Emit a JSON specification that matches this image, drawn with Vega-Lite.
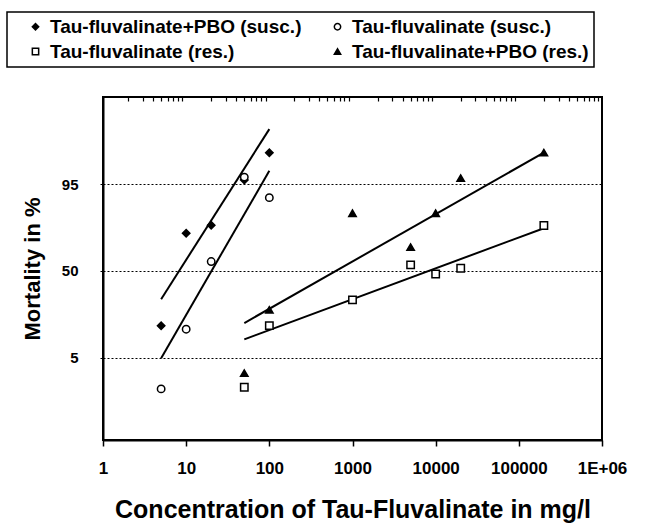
{
  "$schema": "https://vega.github.io/schema/vega-lite/v6.json",
  "width": 499,
  "height": 343,
  "autosize": {"type": "none"},
  "padding": {"left": 103, "top": 97, "right": 43, "bottom": 89},
  "background": "white",
  "config": {
    "font": "Liberation Sans",
    "view": {"stroke": "black", "strokeWidth": 2},
    "axis": {
      "labelFont": "Liberation Sans", "labelFontWeight": "bold", "labelFontSize": 15, "labelColor": "black",
      "titleFont": "Liberation Sans", "titleFontWeight": "bold", "titleFontSize": 22, "titleColor": "black",
      "domainColor": "black", "tickColor": "black"
    },
    "legend": {"labelFont": "Liberation Sans", "labelFontWeight": "bold", "labelFontSize": 19, "labelColor": "black", "strokeWidth": 1.5}
  },
  "datasets": {
    "points": [
      {"group": "Tau-fluvalinate+PBO (susc.)", "conc": 5, "probit": -1.04},
      {"group": "Tau-fluvalinate+PBO (susc.)", "conc": 10, "probit": 0.715},
      {"group": "Tau-fluvalinate+PBO (susc.)", "conc": 20, "probit": 0.867},
      {"group": "Tau-fluvalinate+PBO (susc.)", "conc": 50, "probit": 1.727},
      {"group": "Tau-fluvalinate+PBO (susc.)", "conc": 100, "probit": 2.24},
      {"group": "Tau-fluvalinate (susc.)", "conc": 5, "probit": -2.24},
      {"group": "Tau-fluvalinate (susc.)", "conc": 10, "probit": -1.107},
      {"group": "Tau-fluvalinate (susc.)", "conc": 20, "probit": 0.177},
      {"group": "Tau-fluvalinate (susc.)", "conc": 50, "probit": 1.78},
      {"group": "Tau-fluvalinate (susc.)", "conc": 100, "probit": 1.39},
      {"group": "Tau-fluvalinate+PBO (res.)", "conc": 50, "probit": -1.94},
      {"group": "Tau-fluvalinate+PBO (res.)", "conc": 100, "probit": -0.74},
      {"group": "Tau-fluvalinate+PBO (res.)", "conc": 1000, "probit": 1.095},
      {"group": "Tau-fluvalinate+PBO (res.)", "conc": 5000, "probit": 0.45},
      {"group": "Tau-fluvalinate+PBO (res.)", "conc": 10000, "probit": 1.095},
      {"group": "Tau-fluvalinate+PBO (res.)", "conc": 20000, "probit": 1.76},
      {"group": "Tau-fluvalinate+PBO (res.)", "conc": 200000, "probit": 2.245},
      {"group": "Tau-fluvalinate (res.)", "conc": 50, "probit": -2.21},
      {"group": "Tau-fluvalinate (res.)", "conc": 100, "probit": -1.04},
      {"group": "Tau-fluvalinate (res.)", "conc": 1000, "probit": -0.55},
      {"group": "Tau-fluvalinate (res.)", "conc": 5000, "probit": 0.114},
      {"group": "Tau-fluvalinate (res.)", "conc": 10000, "probit": -0.06},
      {"group": "Tau-fluvalinate (res.)", "conc": 20000, "probit": 0.05},
      {"group": "Tau-fluvalinate (res.)", "conc": 200000, "probit": 0.86}
    ],
    "fits": [
      {"series": "pbo_susc", "conc": 5, "probit": -0.537},
      {"series": "pbo_susc", "conc": 100, "probit": 2.69},
      {"series": "susc", "conc": 5, "probit": -1.657},
      {"series": "susc", "conc": 100, "probit": 1.898},
      {"series": "pbo_res", "conc": 50, "probit": -0.99},
      {"series": "pbo_res", "conc": 200000, "probit": 2.245},
      {"series": "res", "conc": 50, "probit": -1.3},
      {"series": "res", "conc": 200000, "probit": 0.81}
    ]
  },
  "layer": [
    {
      "data": {"name": "fits"},
      "mark": {"type": "line", "color": "black", "strokeWidth": 2},
      "encoding": {
        "x": {
          "field": "conc", "type": "quantitative",
          "scale": {"type": "log", "domain": [1, 1000000], "nice": false},
          "axis": {
            "values": [1, 10, 100, 1000, 10000, 100000, 1000000],
            "labelExpr": "datum.value >= 1000000 ? '1E+06' : format(datum.value, 'd')",
            "grid": false, "tickSize": 6, "tickWidth": 1.5, "domainWidth": 2,
            "labelFontSize": 17, "labelPadding": 14, "labelFlush": false,
            "title": "Concentration of Tau-Fluvalinate in mg/l", "titleFontSize": 25, "titlePadding": 21
          }
        },
        "y": {
          "field": "probit", "type": "quantitative",
          "scale": {"domain": [-3.21, 3.3], "nice": false, "zero": false},
          "axis": {
            "values": [-1.645, 0, 1.645],
            "labelExpr": "datum.value > 1 ? '95' : (datum.value < -1 ? '5' : '50')",
            "grid": true, "gridColor": "black", "gridDash": [2, 2], "gridWidth": 1,
            "tickSize": 3, "domainWidth": 2, "labelPadding": 22,
            "title": "Mortality in %", "titlePadding": 17
          }
        },
        "detail": {"field": "series"}
      }
    },
    {
      "data": {"name": "points"},
      "mark": {"type": "point", "filled": true, "stroke": "black", "strokeWidth": 1.5, "size": 55, "opacity": 1},
      "encoding": {
        "x": {
          "field": "conc", "type": "quantitative",
          "axis": {
            "values": [2, 3, 4, 5, 6, 7, 8, 9, 20, 30, 40, 50, 60, 70, 80, 90, 200, 300, 400, 500, 600, 700, 800, 900, 2000, 3000, 4000, 5000, 6000, 7000, 8000, 9000, 20000, 30000, 40000, 50000, 60000, 70000, 80000, 90000, 200000, 300000, 400000, 500000, 600000, 700000, 800000, 900000],
            "labels": false, "domain": false, "grid": false, "tickSize": -4, "tickWidth": 1.2, "title": null
          }
        },
        "y": {"field": "probit", "type": "quantitative"},
        "shape": {
          "field": "group", "type": "nominal",
          "scale": {
            "domain": ["Tau-fluvalinate+PBO (susc.)", "Tau-fluvalinate (res.)", "Tau-fluvalinate (susc.)", "Tau-fluvalinate+PBO (res.)"],
            "range": ["diamond", "square", "circle", "triangle-up"]
          },
          "legend": {
            "title": null, "orient": "none", "legendX": -96, "legendY": -85, "columns": 2,
            "columnPadding": 12, "rowPadding": 5, "padding": 5, "strokeColor": "black",
            "symbolSize": 40, "symbolOffset": 14, "labelOffset": 5, "labelLimit": 400,
            "encode": {"symbols": {"update": {"stroke": {"value": "black"}, "strokeWidth": {"value": 1.3}}}}
          }
        },
        "fill": {
          "field": "group", "type": "nominal",
          "scale": {
            "domain": ["Tau-fluvalinate+PBO (susc.)", "Tau-fluvalinate (res.)", "Tau-fluvalinate (susc.)", "Tau-fluvalinate+PBO (res.)"],
            "range": ["black", "white", "white", "black"]
          },
          "legend": {
            "title": null, "orient": "none", "legendX": -96, "legendY": -85, "columns": 2,
            "columnPadding": 12, "rowPadding": 5, "padding": 5, "strokeColor": "black",
            "symbolSize": 40, "symbolOffset": 14, "labelOffset": 5, "labelLimit": 400,
            "encode": {"symbols": {"update": {"stroke": {"value": "black"}, "strokeWidth": {"value": 1.3}}}}
          }
        }
      }
    }
  ],
  "resolve": {"axis": {"x": "independent"}}
}
